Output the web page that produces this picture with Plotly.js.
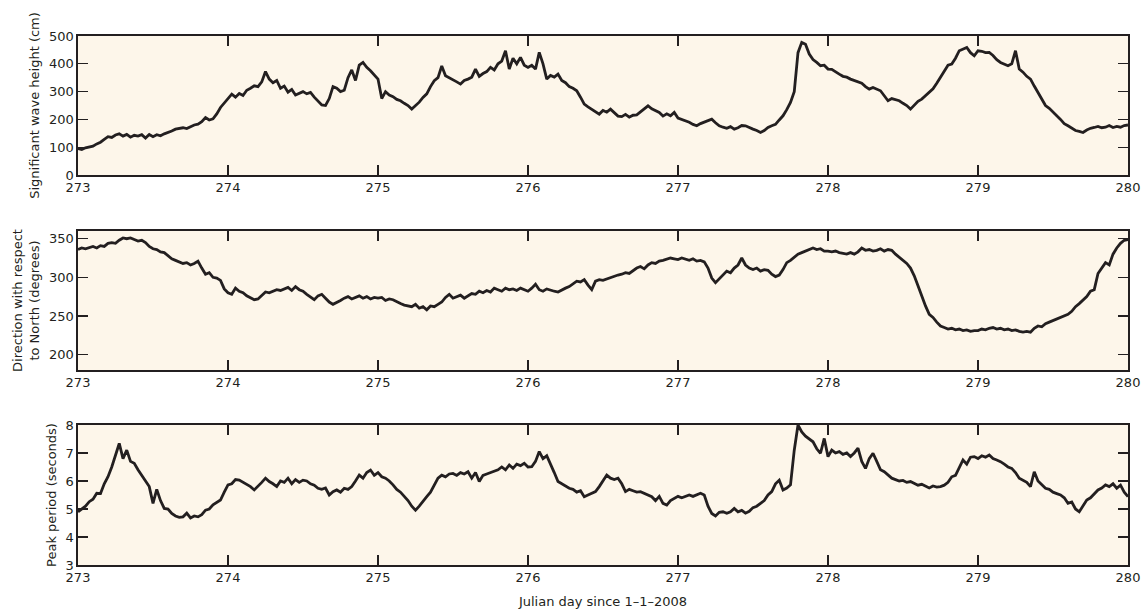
<!DOCTYPE html>
<html><head><meta charset="utf-8">
<script src="https://cdn.plot.ly/plotly-3.0.1.min.js"></script>
<style>html,body{margin:0;padding:0;background:#fff}#chart{width:1141px;height:610px}</style>
</head><body><div id="chart"></div>
<script>
// Sampling: start day and step (days)
const startDay = 273;
const stepDay = 0.025;
const xTicks = [273, 274, 275, 276, 277, 278, 279, 280];

// Significant wave height (cm)
const waveHeight = [
95,92,98,100,104,
112,118,128,138, 135,144,148,140, 146,136,143,140, 145,133,146,138,
145,141,148,152, 158,165,168,170, 167,174,180,183, 192,207,198,202,
220,243,258,273, 291,280,293,286, 305,312,321,318, 335,372,345,332,
340,312,320,298, 308,288,294,300, 292,297,280,265, 252,250,275,318,
312,300,305,350, 378,340,395,405, 387,375,360,345, 275,300,288,282,
272,267,258,250, 237,250,262,279, 292,318,339,350, 392,357,350,345,
335,327,340,345, 352,381,355,365, 372,387,378,400, 410,447,381,420,
400,423,395,387, 395,381,441,400, 345,358,352,363, 340,332,318,312,
303,280,255,245, 236,228,219,232, 226,237,226,212, 210,218,208,215,
216,228,240,249, 238,231,225,212, 220,213,225,205, 200,195,190,182,
177,185,190,195, 201,188,177,172, 168,174,165,170, 178,177,170,165,
160,153,160,171, 177,182,198,213, 235,261,300,440, 477,470,435,415,
405,393,395,381, 380,370,363,355, 352,345,340,333, 330,318,309,315,
308,303,285,267, 275,270,267,258, 250,237,250,265, 273,285,297,310,
330,351,372,395, 399,420,447,452, 459,440,429,447, 445,440,441,430,
415,405,400,393, 400,447,381,370, 355,345,320,297, 275,250,240,228,
213,200,185,177, 168,160,157,153, 162,168,171,175, 170,172,178,171,
175,172,178,180
];

// Direction with respect to North (degrees)
const direction = [
336,338,337,339,340,
338,341,340,344, 345,344,348,351, 350,351,349,347, 348,345,340,337,
336,333,332,328, 324,322,320,318, 319,316,318,321, 312,304,306,300,
299,296,285,280, 278,286,282,280, 276,273,271,272, 276,281,280,282,
284,283,285,287, 283,288,284,282, 278,275,271,276, 278,273,268,265,
267,270,273,275, 272,274,276,273, 275,272,274,273, 274,270,272,271,
268,266,264,263, 262,265,260,262, 258,263,262,265, 268,274,278,273,
275,277,273,276, 279,278,282,280, 283,281,286,284, 282,286,284,285,
283,286,284,282, 286,291,284,282, 285,283,282,281, 284,286,288,292,
295,294,297,290, 284,295,297,296, 298,300,301,303, 304,306,305,309,
312,314,311,316, 319,318,321,322, 324,325,324,323, 325,323,322,324,
321,322,320,312, 299,293,298,302, 308,306,312,316, 325,316,312,310,
312,308,310,309, 304,301,303,310, 319,322,326,330, 332,334,335,338,
336,337,334,334, 333,334,332,331, 330,332,330,333, 338,335,336,334,
335,337,334,336, 335,330,326,323, 318,312,302,289, 275,263,252,248,
242,237,235,233, 234,232,233,231, 232,230,231,231, 233,232,234,235,
233,234,232,233, 231,232,230,229, 230,229,234,237, 236,240,242,244,
246,248,251,252, 256,262,266,270, 275,282,284,305, 312,319,316,330,
338,344,348,349
];

// Peak period (seconds)
const peakPeriod = [
4.9,5.0,5.1,5.26,5.35,
5.56,5.55,5.9,6.15, 6.5,6.9,7.34,6.8, 7.1,6.7,6.63,6.4, 6.2,6.0,5.8,5.2,
5.7,5.3,5.02,5.0, 4.84,4.75,4.7,4.72, 4.85,4.68,4.75,4.72, 4.8,4.96,5.0,5.15,
5.25,5.32,5.6,5.86, 5.9,6.05,6.03,5.95, 5.9,5.8,5.68,5.8, 5.95,6.1,5.98,5.9,
5.8,6.0,5.95,6.1, 5.9,6.05,5.95,6.03, 6.0,5.9,5.85,5.74, 5.7,5.75,5.5,5.62,
5.68,5.6,5.74,5.7, 5.8,6.0,6.21,6.1, 6.3,6.39,6.2,6.3, 6.15,6.1,6.0,5.86,
5.7,5.6,5.45,5.3, 5.1,4.96,5.1,5.25, 5.44,5.6,5.85,6.1, 6.21,6.15,6.25,6.27,
6.2,6.3,6.25,6.33, 6.1,6.3,5.98,6.2, 6.25,6.3,6.33,6.4, 6.5,6.4,6.57,6.45,
6.6,6.55,6.63,6.5, 6.51,6.7,7.05,6.8, 6.9,6.63,6.3,5.98, 5.9,5.8,5.74,5.7,
5.6,5.65,5.44,5.5, 5.55,5.62,5.8,6.0, 6.21,6.1,6.05,6.1, 5.9,5.62,5.7,5.65,
5.6,5.62,5.55,5.5, 5.44,5.3,5.45,5.2, 5.14,5.3,5.38,5.45, 5.4,5.44,5.5,5.45,
5.5,5.56,5.5,5.1, 4.84,4.75,4.88,4.9, 4.85,4.9,5.02,4.9, 4.95,4.85,4.92,5.05,
5.1,5.2,5.3,5.5, 5.62,5.9,6.03,5.68, 5.75,5.86,7.1,8.0, 7.75,7.6,7.5,7.4,
7.15,6.99,7.52,6.87, 7.1,7.0,7.05,6.95, 7.0,6.87,7.0,7.17, 6.7,6.45,6.8,6.99,
6.7,6.4,6.33,6.2, 6.1,6.05,6.0,6.02, 5.95,5.98,5.9,5.85, 5.88,5.8,5.75,5.82,
5.78,5.8,5.85,5.95, 6.15,6.2,6.5,6.75, 6.6,6.85,6.87,6.8, 6.9,6.85,6.93,6.8,
6.75,6.69,6.6,6.5, 6.45,6.3,6.1,6.03, 5.95,5.8,6.33,6.0, 5.85,5.74,5.7,5.6,
5.55,5.5,5.4,5.2, 5.25,5.0,4.9,5.1, 5.32,5.4,5.55,5.68, 5.75,5.86,5.8,5.9,
5.74,5.85,5.6,5.44
];

const ink = '#231f20';
const days = waveHeight.map((_, i) => startDay + i * stepDay);

function line(y, xa, ya) {
  return {x: days.slice(0, y.length), y: y, xaxis: xa, yaxis: ya, type: 'scatter', mode: 'lines',
    line: {color: ink, width: 2.8}, hoverinfo: 'skip', showlegend: false};
}

const data = [
  line(waveHeight, 'x', 'y'),
  line(direction, 'x2', 'y2'),
  line(peakPeriod, 'x3', 'y3')
];

const fnt = {family: 'DejaVu Sans, Verdana, sans-serif', size: 13, color: ink};
function xax(anchor, title) {
  const a = {domain: [0, 1], anchor: anchor, range: [273, 280], tickvals: xTicks,
    ticks: 'inside', ticklen: 10, tickwidth: 1.2, tickcolor: ink, showline: true, linecolor: ink,
    linewidth: 1.6, mirror: 'ticks', showgrid: false, zeroline: false, tickfont: fnt, ticklabelstandoff: 0};
  if (title) a.title = {text: title, font: fnt, standoff: 12};
  return a;
}
function yax(anchor, dom, range, dtick, title) {
  return {domain: dom, anchor: anchor, range: range, dtick: dtick, tick0: 0,
    ticks: 'inside', ticklen: 10, tickwidth: 1.2, tickcolor: ink, showline: true, linecolor: ink,
    linewidth: 1.6, mirror: 'ticks', showgrid: false, zeroline: false, tickfont: fnt,
    title: {text: title, font: fnt, standoff: 6}};
}

const layout = {
  width: 1141, height: 610,
  margin: {l: 78, r: 13, t: 36, b: 45},
  paper_bgcolor: '#ffffff', plot_bgcolor: '#fdf6ea',
  font: fnt,
  xaxis: xax('y'),
  yaxis: yax('x', [0.7372, 1], [0, 500], 100, 'Significant wave height (cm)'),
  xaxis2: xax('y2'),
  yaxis2: yax('x2', [0.3686, 0.6314], [180, 360], 50, 'Direction with respect<br>to North (degrees)'),
  xaxis3: xax('y3', 'Julian day since 1\u20131\u20132008'),
  yaxis3: yax('x3', [0, 0.2647], [3, 8], 1, 'Peak period (seconds)')
};

Plotly.newPlot('chart', data, layout, {staticPlot: true, displayModeBar: false});
</script></body></html>
